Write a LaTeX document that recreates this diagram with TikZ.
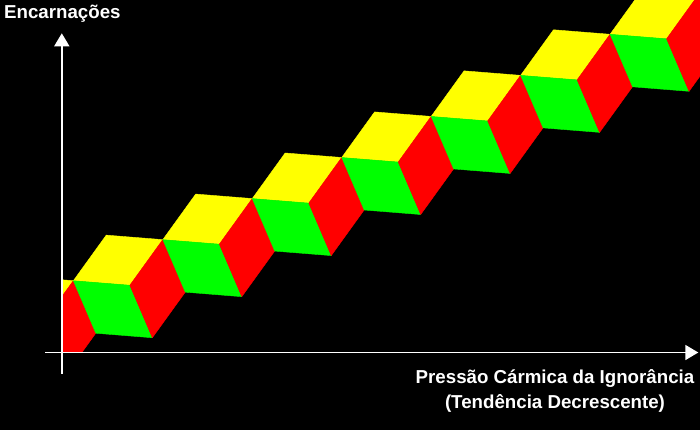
\documentclass[tikz,border=0pt]{standalone}
\usepackage{fontspec}
\setmainfont{Liberation Sans}
\usetikzlibrary{arrows.meta}
\definecolor{cyel}{RGB}{255,255,0}
\definecolor{cgrn}{RGB}{0,255,0}
\definecolor{cred}{RGB}{255,0,0}
\begin{document}
\begin{tikzpicture}[x=1pt,y=-1pt,
  lbl/.style={text=white,font=\fontsize{18.7}{22}\selectfont\bfseries,inner sep=0pt},
  axis/.style={draw=white,line width=1.6pt,-{Triangle[length=13pt,width=15pt]}},
  topface/.style={fill=cyel,draw=cyel,line width=0.4pt,line join=round},
  leftface/.style={fill=cgrn,draw=cgrn,line width=0.4pt,line join=round},
  rightface/.style={fill=cred,draw=cred,line width=0.4pt,line join=round}]
\fill[black] (0,0) rectangle (700,430);
\useasboundingbox (0,0) rectangle (700,430);
\begin{scope}
  \clip (62.6,-5) rectangle (705,351.4);
  \foreach \k in {0,...,8} {
    \begin{scope}[shift={({-16.1+89.45*\k},{321.8-41.07*\k})}]
      \path[topface] (0,0) -- (56.5,4.5) -- (89.4,-41.1) -- (32.9,-45.6) -- cycle;
      \path[leftface] (0,0) -- (56.5,4.5) -- (79,57) -- (22.5,52.5) -- cycle;
      \path[rightface] (56.5,4.5) -- (89.4,-41.1) -- (111.9,11.4) -- (79,57) -- cycle;
    \end{scope}
  }
\end{scope}
\coordinate (yb) at (61.8,373.5);
\coordinate (yt) at (61.8,33.3);
\coordinate (xl) at (45,352.5);
\coordinate (xr) at (698.3,352.5);
\draw[axis] (yb) -- (yt);
\draw[axis] (xl) -- (xr);
\node[lbl,anchor=base west] (ylab) at (4,19) {Encarnações};
\node[lbl,anchor=base] (xlab1) at (555,383.3) {Pressão Cármica da Ignorância};
\node[lbl,anchor=base] (xlab2) at (555,408) {(Tendência Decrescente)};
\end{tikzpicture}
\end{document}
